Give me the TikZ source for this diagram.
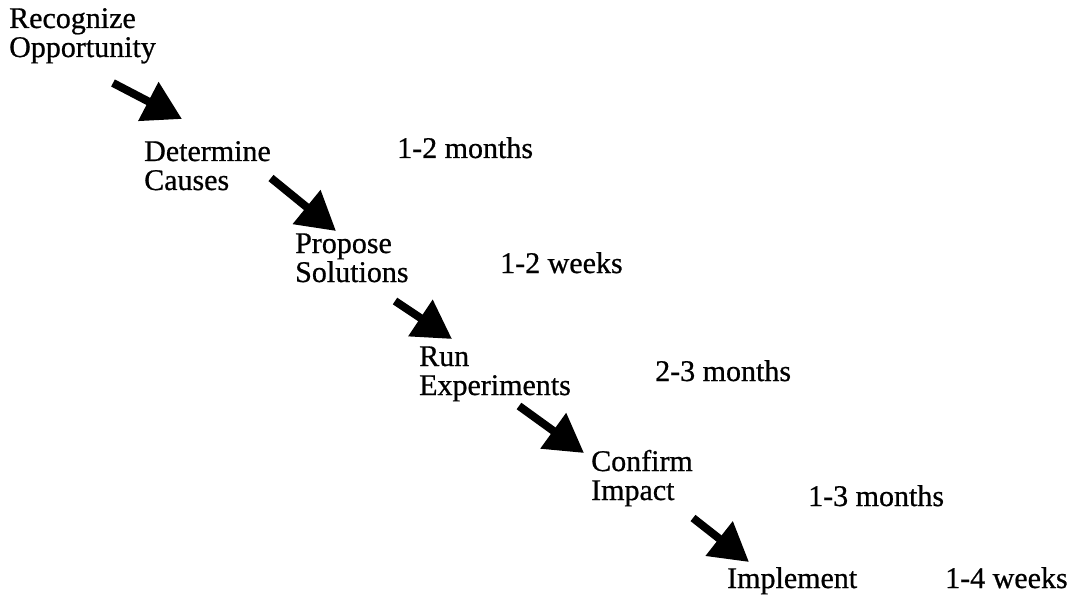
\documentclass[tikz,border=0pt]{standalone}
\usepackage{fontspec}
\setmainfont{Liberation Serif}[FakeBold=0.7]
\usetikzlibrary{arrows.meta}

\begin{document}
\begin{tikzpicture}[x=1pt,y=-1pt,>={Triangle[length=38pt,width=42pt]},
	stage/.style={anchor=base west,align=left,inner sep=0pt,font=\fontsize{30}{29}\selectfont},
	span/.style={anchor=base west,inner sep=0pt,font=\fontsize{30}{29}\selectfont},
	flow/.style={->,line width=8pt}]
	\useasboundingbox (0,0) rectangle (1080,599);
	% base anchor sits on the last line
	\node[stage] (rec) at (9,57) {Recognize\\Opportunity};
	\node[stage] (det) at (144,190) {Determine\\Causes};
	\node[stage] (pro) at (295,282) {Propose\\Solutions};
	\node[stage] (run) at (419,395) {Run\\Experiments};
	\node[stage] (con) at (591,500) {Confirm\\Impact};
	\node[stage] (imp) at (727,588) {Implement};

	\node[span] (t1) at (397,158) {1-2 months};
	\node[span] (t2) at (500,273) {1-2 weeks};
	\node[span] (t3) at (655,381) {2-3 months};
	\node[span] (t4) at (808,506) {1-3 months};
	\node[span] (t5) at (945,588) {1-4 weeks};

	\coordinate (a1s) at (113,83);  \coordinate (a1e) at (182,119);
	\coordinate (a2s) at (271,178); \coordinate (a2e) at (336,231);
	\coordinate (a3s) at (395,301); \coordinate (a3e) at (452,339);
	\coordinate (a4s) at (519,406); \coordinate (a4e) at (584,453);
	\coordinate (a5s) at (693,518); \coordinate (a5e) at (749,562);

	\path[flow] (a1s) edge (a1e)
	(a2s) edge (a2e)
	(a3s) edge (a3e)
	(a4s) edge (a4e)
	(a5s) edge (a5e)
	;
\end{tikzpicture}
\end{document}
